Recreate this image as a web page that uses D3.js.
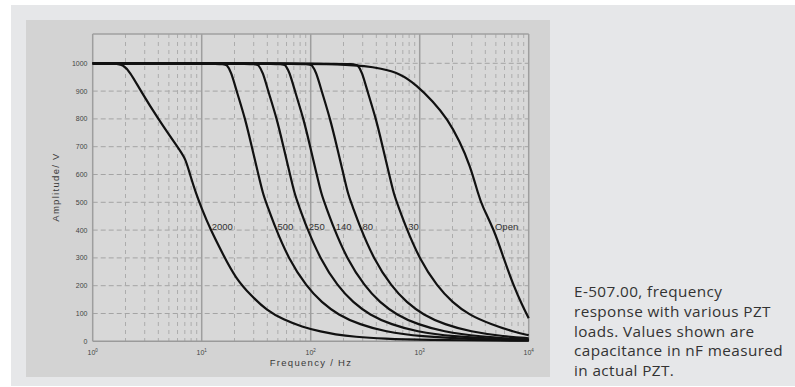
<!DOCTYPE html>
<html><head><meta charset="utf-8">
<script src="https://cdn.jsdelivr.net/npm/d3@7"></script>
<style>body{margin:0;background:#fff;} svg{display:block;}</style>
</head><body>
<svg id="c" width="795" height="387"></svg>
<script>
// ---- data (frequency in Hz, amplitude in V) ----
const seriesNames = ["2000", "500", "250", "140", "80", "30", "Open"];

const f2000 = [1, 1.66, 1.9, 2.19, 2.72, 3.98, 6.1, 7.08, 7.8, 8.9, 10, 11.9, 15.8, 20.4, 28.2, 39.8, 56.2, 83, 126, 166, 251, 479, 1000, 10000];
const v2000 = [1000, 1000, 994, 970, 905, 800, 695, 659, 600, 530, 478, 406, 310, 228, 165, 110, 78, 52, 34, 25, 16, 9, 5, 2];

const f500 = [1, 15.8, 17, 18.6, 20.9, 25.1, 28.8, 33.1, 36.7, 39.8, 47, 62.4, 91.8, 126, 179, 282, 479, 1000, 3162, 10000];
const v500 = [1000, 1000, 995, 970, 900, 800, 700, 600, 526, 490, 412, 298, 196, 140, 95, 60, 35, 17, 7, 3];

const f250 = [1, 31, 33.1, 36.3, 40.7, 49, 56.2, 64.6, 71.6, 77.6, 91.2, 121.6, 178, 245, 347, 550, 933, 1950, 6166, 10000];
const v250 = [1000, 1000, 995, 970, 900, 800, 700, 600, 526, 490, 412, 298, 196, 140, 95, 60, 35, 17, 7, 5];

const f140 = [1, 56.2, 58.2, 63.8, 71.6, 86.1, 98.9, 113.5, 126, 136.5, 161, 214, 315, 431, 614, 966, 1641, 3428, 10000];
const v140 = [1000, 1000, 995, 970, 900, 800, 700, 600, 526, 490, 412, 298, 196, 140, 95, 60, 35, 17, 6];

const f80 = [1, 97.7, 102, 112, 126, 151, 174, 200, 221, 240, 283, 376, 553, 759, 1079, 1698, 2884, 6026, 10000];
const v80 = [1000, 1000, 995, 970, 900, 800, 700, 600, 526, 490, 412, 298, 196, 140, 95, 60, 35, 17, 11];

const f30 = [1, 251, 269, 295, 331, 398, 457, 525, 582, 631, 745, 989, 1455, 1995, 2838, 4467, 7586, 10000];
const v30 = [1000, 1000, 995, 970, 900, 800, 700, 600, 526, 490, 412, 298, 196, 140, 95, 62, 32, 22];

const fOpen = [1, 100, 200, 316, 433, 661, 933, 1334, 1778, 2344, 2884, 3467, 3715, 4898, 5888, 7244, 8710, 10000];
const vOpen = [1000, 999, 996, 990, 982, 964, 922, 862, 802, 718, 634, 526, 490, 394, 298, 202, 130, 83];

const yTicks = [0, 100, 200, 300, 400, 500, 600, 700, 800, 900, 1000];
const xDecades = [1, 10, 100, 1000, 10000];
const xExponents = ["0", "1", "2", "3", "4"];
const captionLines = ["E-507.00, frequency", "response with various PZT", "loads. Values shown are", "capacitance in nF measured", "in actual PZT."];
const xTitle = "Frequency / Hz";
const yTitle = "Amplitude/ V";
const labelLevel = 412;

const series = [
  {name: seriesNames[0], f: f2000, v: v2000},
  {name: seriesNames[1], f: f500, v: v500},
  {name: seriesNames[2], f: f250, v: v250},
  {name: seriesNames[3], f: f140, v: v140},
  {name: seriesNames[4], f: f80, v: v80},
  {name: seriesNames[5], f: f30, v: v30},
  {name: seriesNames[6], f: fOpen, v: vOpen}
];

// ---- layout ----
const svg = d3.select("#c");
const L = 92.7, R = 528.7, T = 35.5, B = 341.3;
const FONT = "Liberation Sans, Arial, sans-serif";

svg.append("rect").attr("x", 11).attr("y", 5).attr("width", 784).attr("height", 381).attr("fill", "#e6e7e9");
svg.append("rect").attr("x", 26).attr("y", 20).attr("width", 524).attr("height", 357).attr("fill", "#d3d3d3");
svg.append("rect").attr("x", L).attr("y", T - 1.5).attr("width", R - L).attr("height", B - T + 1.5).attr("fill", "#d8d8d8");

const x = d3.scaleLog().domain([1, 10000]).range([L, R]);
const y = d3.scaleLinear().domain([0, 1100]).range([B, T]);

const g = svg.append("g");

// horizontal dashed grid
g.selectAll("line.hg").data(yTicks.filter(d => d > 0)).join("line")
  .attr("x1", L).attr("x2", R).attr("y1", d => y(d)).attr("y2", d => y(d))
  .attr("stroke", "#a4a4a4").attr("stroke-width", 1).attr("stroke-dasharray", "5,3");

// minor vertical dashed grid
const minor = [];
for (let d = 0; d < 4; d++) for (let m = 2; m <= 9; m++) minor.push(m * Math.pow(10, d));
g.selectAll("line.mg").data(minor).join("line")
  .attr("x1", d => x(d)).attr("x2", d => x(d)).attr("y1", T - 1.5).attr("y2", B)
  .attr("stroke", "#acacac").attr("stroke-width", 1).attr("stroke-dasharray", "4,4");

// major vertical lines
g.selectAll("line.Mg").data(xDecades).join("line")
  .attr("x1", d => x(d)).attr("x2", d => x(d)).attr("y1", T - 1.5).attr("y2", B)
  .attr("stroke", "#9e9e9e").attr("stroke-width", 1.5);

// border
g.append("line").attr("x1", L).attr("x2", R).attr("y1", T - 1.5).attr("y2", T - 1.5).attr("stroke", "#a0a0a0").attr("stroke-width", 1.5);
g.append("line").attr("x1", L).attr("x2", R).attr("y1", B).attr("y2", B).attr("stroke", "#9a9a9a").attr("stroke-width", 1.5);

// curves
const line = d3.line().x(d => x(d[0])).y(d => y(d[1])).curve(d3.curveBasis);
series.forEach(s => {
  const pts = s.f.map((f, i) => [f, s.v[i]]);
  g.append("path").attr("d", line(pts)).attr("fill", "none")
    .attr("stroke", "#111").attr("stroke-width", 2.2).attr("stroke-linejoin", "round");
});

// curve labels at V = labelLevel
series.forEach(s => {
  let fx = null;
  for (let i = 1; i < s.v.length; i++) {
    if (s.v[i - 1] >= labelLevel && s.v[i] <= labelLevel) {
      const t = (s.v[i - 1] - labelLevel) / (s.v[i - 1] - s.v[i]);
      fx = Math.pow(10, Math.log10(s.f[i - 1]) + t * (Math.log10(s.f[i]) - Math.log10(s.f[i - 1])));
      break;
    }
  }
  svg.append("text").attr("x", x(fx) + 2.5).attr("y", y(labelLevel) + 3.5)
    .attr("font-family", FONT).attr("font-size", 9.5)
    .attr("fill", "#333").text(s.name);
});

// y tick labels
svg.selectAll("text.yt").data(yTicks).join("text")
  .attr("x", 87.5).attr("y", d => y(d) + 2.5).attr("text-anchor", "end")
  .attr("font-family", FONT).attr("font-size", 7)
  .attr("fill", "#444").text(d => d);

// x tick labels
xDecades.forEach((d, i) => {
  const t = svg.append("text").attr("x", x(d)).attr("y", 355).attr("text-anchor", "middle")
    .attr("font-family", FONT).attr("font-size", 7).attr("fill", "#444");
  t.append("tspan").text("10");
  t.append("tspan").attr("dy", -3).attr("font-size", 4.5).text(xExponents[i]);
});

// axis titles
svg.append("text").attr("x", 311).attr("y", 366).attr("text-anchor", "middle")
  .attr("font-family", FONT).attr("font-size", 9.5)
  .attr("letter-spacing", 1.3).attr("fill", "#3a3a3a").text(xTitle);
svg.append("text").attr("transform", "translate(59,187) rotate(-90)").attr("text-anchor", "middle")
  .attr("font-family", FONT).attr("font-size", 9.5)
  .attr("letter-spacing", 1.3).attr("fill", "#3a3a3a").text(yTitle);

// caption
svg.selectAll("text.cap").data(captionLines).join("text")
  .attr("x", 574).attr("y", (d, i) => 297 + i * 19.8)
  .attr("font-family", "Open Sans, sans-serif").attr("font-size", 15.3)
  .attr("letter-spacing", 0.4)
  .attr("fill", "#333").text(d => d);
</script>
</body></html>
